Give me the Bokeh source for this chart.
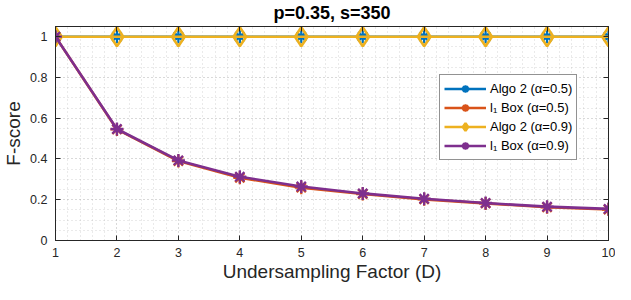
from bokeh.plotting import figure
from bokeh.models import (Legend, LegendItem, LinearAxis, SingleIntervalTicker,
                          CustomJSTickFormatter, Range1d)
from bokeh.embed import file_html
from bokeh.resources import INLINE

# ---- data ----
D = [1, 2, 3, 4, 5, 6, 7, 8, 9, 10]
algo2_a05 = [1, 1, 1, 1, 1, 1, 1, 1, 1, 1]
l1box_a05 = [1, 0.545, 0.390, 0.308, 0.259, 0.228, 0.202, 0.182, 0.163, 0.152]
algo2_a09 = [1, 1, 1, 1, 1, 1, 1, 1, 1, 1]
l1box_a09 = [1, 0.547, 0.393, 0.313, 0.265, 0.231, 0.205, 0.184, 0.166, 0.155]

labels = ["Algo 2 (\u03b1=0.5)", "l\u2081 Box (\u03b1=0.5)",
          "Algo 2 (\u03b1=0.9)", "l\u2081 Box (\u03b1=0.9)"]
title_text = "p=0.35, s=350"
xlabel = "Undersampling Factor (D)"
ylabel = "F-score"

BLUE = "#0072BD"
ORANGE = "#D95319"
YELLOW = "#EDB120"
PURPLE = "#7E2F8E"
DARK = "#262626"
FONT = "Liberation Sans"

p = figure(width=615, height=284, output_backend="svg", toolbar_location=None,
           x_range=Range1d(1, 10), y_range=Range1d(0, 1.05),
           min_border_left=30, min_border_right=7, min_border_top=0,
           min_border_bottom=30)

p.title.text = title_text
p.title.align = "center"
p.title.text_font = FONT
p.title.text_font_size = "18px"
p.title.text_font_style = "bold"
p.title.text_color = "#000000"
p.title.standoff = 0
p.title.offset = 0

p.outline_line_color = DARK
p.outline_line_width = 1
p.outline_line_alpha = 1

xt = SingleIntervalTicker(interval=1, num_minor_ticks=5)
yt = SingleIntervalTicker(interval=0.2, num_minor_ticks=4)

for ax, t in ((p.xaxis[0], xt), (p.yaxis[0], yt)):
    ax.ticker = t
    ax.major_tick_in = 5
    ax.major_tick_out = 0
    ax.minor_tick_line_color = None
    ax.axis_line_color = DARK
    ax.major_tick_line_color = DARK
    ax.major_label_text_font = FONT
    ax.major_label_text_font_size = "12.5px"
    ax.major_label_text_color = DARK
    ax.axis_label_text_font = FONT
    ax.axis_label_text_font_size = "19px"
    ax.axis_label_text_font_style = "normal"
    ax.axis_label_text_color = DARK

p.xaxis.axis_label = xlabel
p.yaxis.axis_label = ylabel
p.yaxis.formatter = CustomJSTickFormatter(
    code="return String(parseFloat(tick.toFixed(2)));")
p.xaxis.major_label_standoff = 3
p.yaxis.major_label_standoff = 4
p.xaxis.axis_label_standoff = 1
p.yaxis.axis_label_standoff = 3

blank = CustomJSTickFormatter(code="return '';")
# box axes (right & top) with inward ticks and no labels
rax = LinearAxis(ticker=yt, major_tick_in=5, major_tick_out=0,
                 minor_tick_line_color=None, axis_line_color=DARK,
                 major_tick_line_color=DARK, formatter=blank,
                 major_label_standoff=0)
tax = LinearAxis(ticker=xt, major_tick_in=5, major_tick_out=0,
                 minor_tick_line_color=None, axis_line_color=DARK,
                 major_tick_line_color=DARK, formatter=blank,
                 major_label_standoff=0)
p.add_layout(rax, "right")
p.add_layout(tax, "above")

for g in (p.xgrid[0], p.ygrid[0]):
    g.grid_line_color = "#999999"
    g.grid_line_alpha = 0.4
    g.grid_line_dash = "1 3"
    g.minor_grid_line_color = "#999999"
    g.minor_grid_line_alpha = 0.4
    g.minor_grid_line_dash = "1 3"
p.xgrid.ticker = xt
p.ygrid.ticker = yt

LW = 2.6
MS = 13
MW = 2.3
r1l = p.line(D, algo2_a05, line_color=BLUE, line_width=LW)
r1m = p.scatter(D, algo2_a05, marker="asterisk", size=MS, line_color=BLUE, line_width=MW)
r2l = p.line(D, l1box_a05, line_color=ORANGE, line_width=LW)
r2m = p.scatter(D, l1box_a05, marker="asterisk", size=MS, line_color=ORANGE, line_width=MW)
r3l = p.line(D, algo2_a09, line_color=YELLOW, line_width=LW)
r3m = p.scatter(D, algo2_a09, marker="diamond", size=19, line_color=YELLOW,
                fill_color=None, line_width=2.6)
r4l = p.line(D, l1box_a09, line_color=PURPLE, line_width=LW)
r4m = p.scatter(D, l1box_a09, marker="asterisk", size=MS, line_color=PURPLE, line_width=MW)

items = [LegendItem(label=labels[0], renderers=[r1l, r1m]),
         LegendItem(label=labels[1], renderers=[r2l, r2m]),
         LegendItem(label=labels[2], renderers=[r3l, r3m]),
         LegendItem(label=labels[3], renderers=[r4l, r4m])]
legend = Legend(items=items, location=(384, 80))
legend.label_text_font = FONT
legend.label_text_font_size = "13px"
legend.label_text_color = "#000000"
legend.glyph_width = 42
legend.glyph_height = 19
legend.label_height = 19
legend.label_standoff = 4
legend.spacing = 0
legend.padding = 4
legend.margin = 0
legend.border_line_color = DARK
legend.border_line_width = 1
legend.background_fill_color = "white"
legend.background_fill_alpha = 1
p.add_layout(legend)

open("out.html", "w").write(file_html(p, INLINE))
